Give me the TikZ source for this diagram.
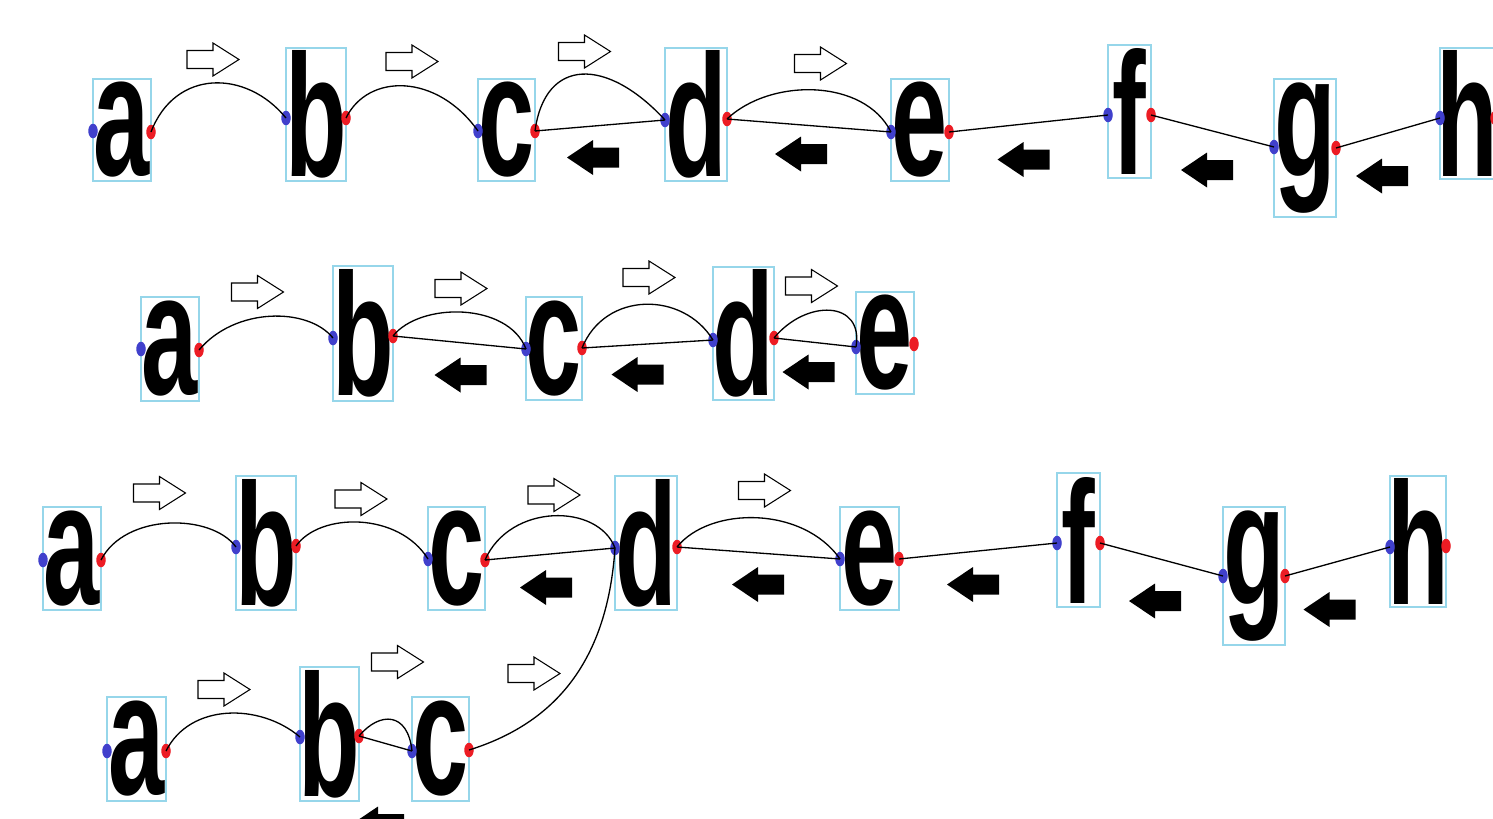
\documentclass[tikz,border=0pt]{standalone}
\usepackage{graphicx}
\usepackage{fontspec}
\newfontfamily\glyphfamily{Liberation Sans}
\usetikzlibrary{calc,fit,shapes.geometric}

\definecolor{boxblue}{RGB}{150,214,234}
\definecolor{dotblue}{RGB}{64,64,204}
\definecolor{dotred}{RGB}{236,28,36}

\tikzset{
  lbox/.style={draw=boxblue, line width=0.8pt, inner sep=0pt},
  glyph/.style={inner sep=0pt, font=\fontsize{99pt}{99pt}\glyphfamily\bfseries},
  bdot/.style={ellipse, fill=dotblue, inner sep=0pt, minimum width=0.19cm, minimum height=0.29cm},
  rdot/.style={ellipse, fill=dotred, inner sep=0pt, minimum width=0.19cm, minimum height=0.29cm},
  wire/.style={line width=0.75pt, black},
  fwdarrow/.pic={\draw[fill=white, line width=0.6pt, line join=miter]
      (-26,-9) -- (0,-9) -- (0,-16.5) -- (26,0) -- (0,16.5) -- (0,9) -- (-26,9) -- cycle;},
  backarrow/.pic={\fill[black]
      (26,-10) -- (0,-10) -- (0,-17.5) -- (-26,0) -- (0,17.5) -- (0,10) -- (26,10) -- cycle;}
}

% name, x1, y1, x2, y2, letter, y of the in-dot, y of the out-dot
\newcommand\letterbox[8]{%
  \node[lbox, fit={(#2,#3) (#4,#5)}] (#1) {};
  \node[glyph] (#1-t) at (#1.center) {\scalebox{0.58}[1]{#6}};
  \node[bdot] (#1-l) at (#2,#7) {};
  \node[rdot] (#1-r) at (#4,#8) {};
}
% arched link: from, to, control offset at start, control offset at end
\newcommand\arch[4]{\draw[wire] (#1.center) .. controls ($(#1.center)+(#3)$) and ($(#2.center)+(#4)$) .. (#2.center);}
\newcommand\link[2]{\draw[wire] (#1.center) -- (#2.center);}

\begin{document}
\begin{tikzpicture}[x=0.02cm, y=-0.02cm]
\useasboundingbox (0,0) rectangle (1493,818);
\clip (0,0) rectangle (1493,818);
\fill[white] (0,0) rectangle (1493,818);

% first row
\letterbox{r1a}{93}{79}{151}{181}{a}{131}{132}
\letterbox{r1b}{286}{48}{346}{181}{b}{118}{118}
\letterbox{r1c}{478}{79}{535}{181}{c}{131}{131}
\letterbox{r1d}{665}{48}{727}{181}{d}{120}{119}
\letterbox{r1e}{891}{79}{949}{181}{e}{132}{132}
\letterbox{r1f}{1108}{45}{1151}{178}{f}{115}{115}
\letterbox{r1g}{1274}{79}{1336}{217}{g}{147}{148}
\letterbox{r1h}{1440}{48}{1495}{179}{h}{118}{118}

% second row
\letterbox{r2a}{141}{297}{199}{401}{a}{349}{350}
\letterbox{r2b}{333}{266}{393}{401}{b}{338}{336}
\letterbox{r2c}{526}{297}{582}{400}{c}{349}{348}
\letterbox{r2d}{713}{267}{774}{400}{d}{340}{338}
\letterbox{r2e}{856}{292}{914}{394}{e}{347}{344}

% third row
\letterbox{r3a}{43}{507}{101}{610}{a}{560}{560}
\letterbox{r3b}{236}{476}{296}{610}{b}{547}{546}
\letterbox{r3c}{428}{507}{485}{610}{c}{559}{560}
\letterbox{r3d}{615}{476}{677}{610}{d}{548}{547}
\letterbox{r3e}{840}{507}{899}{610}{e}{559}{559}
\letterbox{r3f}{1057}{473}{1100}{607}{f}{543}{543}
\letterbox{r3g}{1223}{507}{1285}{645}{g}{576}{576}
\letterbox{r3h}{1390}{476}{1446}{607}{h}{547}{546}

% fourth row
\letterbox{r4a}{107}{697}{166}{801}{a}{751}{751}
\letterbox{r4b}{300}{667}{359}{801}{b}{737}{736}
\letterbox{r4c}{412}{697}{469}{801}{c}{751}{750}

% arched links
\arch{r1a-r}{r1b-l}{24,-63}{-40,-49}
\arch{r1b-r}{r1c-l}{22,-45}{-41,-58}
\arch{r1c-r}{r1d-l}{10,-74}{-58,-63}
\arch{r1d-r}{r1e-l}{43,-41}{-27,-54}

\arch{r2a-r}{r2b-l}{36,-43}{-25,-31}
\arch{r2b-r}{r2c-l}{27,-34}{-18,-47}
\arch{r2c-r}{r2d-l}{23,-57}{-30,-49}
\arch{r2d-r}{r2e-l}{32,-39}{8,-47}

\arch{r3a-r}{r3b-l}{24,-47}{-25,-34}
\arch{r3b-r}{r3c-l}{24,-34}{-29,-47}
\arch{r3c-r}{r3d-l}{25,-57}{-17,-45}
\arch{r3d-r}{r3e-l}{33,-41}{-37,-53}

\arch{r4a-r}{r4b-l}{24,-48}{-40,-34}
\arch{r4b-r}{r4c-l}{21,-25}{-4,-39}
\arch{r4c-r}{r3d-l}{80,-25}{-8,120}

% straight links
\link{r1c-r}{r1d-l}
\link{r1d-r}{r1e-l}
\link{r1e-r}{r1f-l}
\link{r1f-r}{r1g-l}
\link{r1g-r}{r1h-l}

\link{r2b-r}{r2c-l}
\link{r2c-r}{r2d-l}
\link{r2d-r}{r2e-l}

\link{r3c-r}{r3d-l}
\link{r3d-r}{r3e-l}
\link{r3e-r}{r3f-l}
\link{r3f-r}{r3g-l}
\link{r3g-r}{r3h-l}

\link{r4b-r}{r4c-l}

% forward block arrows
\pic at (213,59.5) {fwdarrow};
\pic at (412,61.5) {fwdarrow};
\pic at (584.5,51.5) {fwdarrow};
\pic at (820.5,63.5) {fwdarrow};

\pic at (257.5,292) {fwdarrow};
\pic at (461,288.5) {fwdarrow};
\pic at (649,277.5) {fwdarrow};
\pic at (811.5,286) {fwdarrow};

\pic at (159.5,493) {fwdarrow};
\pic at (361,499) {fwdarrow};
\pic at (554,495) {fwdarrow};
\pic at (764.5,490.5) {fwdarrow};

\pic at (224,689.5) {fwdarrow};
\pic at (397.5,662) {fwdarrow};
\pic at (534,673.5) {fwdarrow};

% backward block arrows
\pic at (593,157.5) {backarrow};
\pic at (801,154) {backarrow};
\pic at (1023.5,159.5) {backarrow};
\pic at (1207,170) {backarrow};
\pic at (1382,176) {backarrow};

\pic at (460.5,375) {backarrow};
\pic at (637.5,374.5) {backarrow};
\pic at (808.5,372) {backarrow};

\pic at (546,587.5) {backarrow};
\pic at (758,584.5) {backarrow};
\pic at (973,584.5) {backarrow};
\pic at (1155,601) {backarrow};
\pic at (1329.5,609.5) {backarrow};

\pic at (378,824) {backarrow};
\end{tikzpicture}
\end{document}
